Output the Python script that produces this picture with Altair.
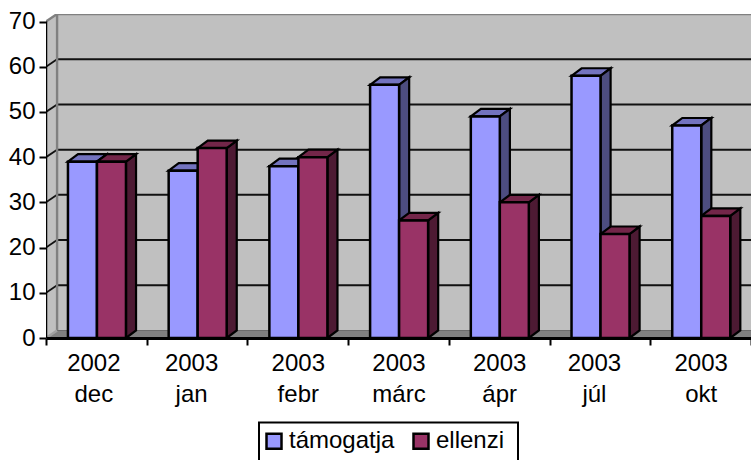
import altair as alt
import pandas as pd

categories = ["2002 dec", "2003 jan", "2003 febr", "2003 márc", "2003 ápr", "2003 júl", "2003 okt"]
tamogatja = [39, 37, 38, 56, 49, 58, 47]
ellenzi = [39, 42, 40, 26, 30, 23, 27]
tick_values = [0, 10, 20, 30, 40, 50, 60, 70]

# Depth of the fake 3D projection, in data units of each axis
DX = 0.1
DY = 1.66
WALL_DX = 0.11
BAR_START = 0.218
BAR_W = 0.288
YMAX = 70 + DY
N = len(categories)
FONT = "Liberation Sans"

x_axis = alt.Axis(
    values=[i / 2 for i in range(2 * N + 1)],
    labelExpr=f"floor(datum.value) == datum.value ? '' : split({categories!r}[floor(datum.value)], ' ')",
    tickOpacity={"condition": {"test": "floor(datum.value) == datum.value", "value": 1}, "value": 0},
    labelOffset={"condition": [{"test": "datum.value == 1.5 || datum.value == 5.5", "value": -6},
                               {"test": "datum.value == 0.5", "value": -3}],
                 "value": 0},
    tickSize=7, tickWidth=2, tickColor="black", domainColor="black", domainWidth=3,
    labelFont=FONT, labelFontSize=24, labelColor="black", labelPadding=6,
    labelLineHeight=31, labelAngle=0, labelOverlap=False, labelFlush=False,
    labelBound=False, grid=False, zindex=1)
y_axis = alt.Axis(values=tick_values, tickSize=7, tickWidth=2, tickColor="black",
                  domain=False, labelFont=FONT, labelFontSize=24, labelColor="black",
                  labelPadding=4, grid=False, zindex=1)

X = alt.X("x:Q", scale=alt.Scale(domain=[0, N], nice=False, zero=False), title=None, axis=x_axis)
Y = alt.Y("y:Q", scale=alt.Scale(domain=[0, YMAX], nice=False), title=None, axis=y_axis)


def poly(rows, fill, stroke=None, sw=0):
    """Closed shape built from an area between a lower (y2) and an upper (y) edge."""
    kw = {"fill": fill, "interpolate": "linear", "clip": True, "orient": "vertical"}
    if stroke:
        kw.update(stroke=stroke, strokeWidth=sw, strokeJoin="miter")
    return alt.Chart(pd.DataFrame(rows)).mark_area(**kw).encode(
        x=X, y=Y, y2="y2:Q", detail="k:N")


def seg(rows, color, sw):
    """Straight edges from (x, y) to (x2, y2)."""
    return alt.Chart(pd.DataFrame(rows)).mark_rule(color=color, strokeWidth=sw, clip=True).encode(
        x=X, x2="x2:Q", y=Y, y2="y2:Q")


# Walls and floor of the 3D box
back_wall = alt.Chart(pd.DataFrame([{"x": WALL_DX, "x2": N, "y": YMAX, "y2": DY}])).mark_rect(
    fill="#C0C0C0").encode(x=X, x2="x2:Q", y=Y, y2="y2:Q")

side_wall = poly([{"x": 0, "y": YMAX - DY, "y2": 0, "k": "w"},
                  {"x": WALL_DX, "y": YMAX, "y2": DY, "k": "w"}], "#C0C0C0")
floor_ = poly([{"x": 0, "y": 0, "y2": 0, "k": "f"},
               {"x": WALL_DX, "y": DY, "y2": 0, "k": "f"},
               {"x": N, "y": DY, "y2": 0, "k": "f"}], "#808080")

grid_rows = [{"x": WALL_DX, "x2": N, "y": v + DY, "y2": v + DY} for v in tick_values[1:-1]]
stub_rows = [{"x": 0, "x2": WALL_DX, "y": v, "y2": v + DY} for v in tick_values[1:-1]]
gridlines = seg(grid_rows, "#111111", 2)
stubs = seg(stub_rows, "#111111", 1.8)
top_edges = seg([{"x": 0, "x2": WALL_DX, "y": 70, "y2": YMAX},
                 {"x": WALL_DX, "x2": N, "y": YMAX, "y2": YMAX},
                 {"x": WALL_DX, "x2": WALL_DX, "y": DY, "y2": YMAX}], "#808080", 2.4)
floor_left = seg([{"x": 0, "x2": WALL_DX, "y": 0, "y2": DY}], "#A0A0A0", 2.5)
floor_back = seg([{"x": WALL_DX, "x2": N, "y": DY, "y2": DY}], "#6A6A6A", 1.2)
y_line = seg([{"x": 0, "x2": 0, "y": 0, "y2": 70}], "black", 2.5)


def bar_parts(values, offset, top_col, side_col):
    tops, sides = [], []
    for i, v in enumerate(values):
        x0 = i + BAR_START + offset
        x1 = x0 + BAR_W
        tops += [{"x": x0, "y": v, "y2": v, "k": i},
                 {"x": x0 + DX, "y": v + DY, "y2": v, "k": i},
                 {"x": x1, "y": v + DY, "y2": v, "k": i},
                 {"x": x1 + DX, "y": v + DY, "y2": v + DY, "k": i}]
        sides += [{"x": x1, "y": v, "y2": 0, "k": i},
                  {"x": x1 + DX, "y": v + DY, "y2": DY, "k": i}]
    return poly(sides, side_col, "black", 2.2), poly(tops, top_col, "black", 2.2)


blue_side, blue_top = bar_parts(tamogatja, 0, "#7373BF", "#4D4D80")
red_side, red_top = bar_parts(ellenzi, BAR_W, "#732649", "#4D1A33")

front = pd.DataFrame(
    [{"x": i + BAR_START, "x2": i + BAR_START + BAR_W, "y": v, "y2": 0, "s": "támogatja"}
     for i, v in enumerate(tamogatja)]
    + [{"x": i + BAR_START + BAR_W, "x2": i + BAR_START + 2 * BAR_W, "y": v, "y2": 0, "s": "ellenzi"}
       for i, v in enumerate(ellenzi)])
fronts = alt.Chart(front).mark_rect(stroke="black", strokeWidth=2.5).encode(
    x=X, x2="x2:Q", y=Y, y2="y2:Q",
    color=alt.Color("s:N",
                    scale=alt.Scale(domain=["támogatja", "ellenzi"], range=["#9999FF", "#993366"]),
                    sort=["támogatja", "ellenzi"],
                    legend=alt.Legend(orient="none", legendX=213, legendY=408, title=None,
                                      direction="horizontal", columns=2, columnPadding=13,
                                      padding=7, labelFont=FONT, symbolOffset=-4,
                                      labelFontSize=24, labelColor="black", labelOffset=3,
                                      symbolType="square", symbolSize=225, symbolStrokeColor="black",
                                      symbolStrokeWidth=2.5, symbolOpacity=1, labelLimit=200)))

# Frame around the legend; it runs past the lower edge of the canvas
legend_frame = alt.Chart(pd.DataFrame({"s": ["frame"]})).mark_rect(
    fill="white", stroke="black", strokeWidth=2, clip=False).encode(
    x=alt.value(213), x2=alt.value(472), y=alt.value(408.5), y2=alt.value(452))

chart = alt.layer(back_wall, side_wall, floor_, gridlines, stubs, top_edges, floor_left, floor_back,
                  blue_top, blue_side, red_side, red_top, fronts, y_line, legend_frame).properties(
    width=705, height=324,
    padding={"left": 46, "top": 14, "right": 0, "bottom": 122},
    autosize=alt.AutoSizeParams(type="none"),
    background="white",
).configure_view(stroke=None)

chart.save("out.html", embed_options={"renderer": "svg", "actions": False})
